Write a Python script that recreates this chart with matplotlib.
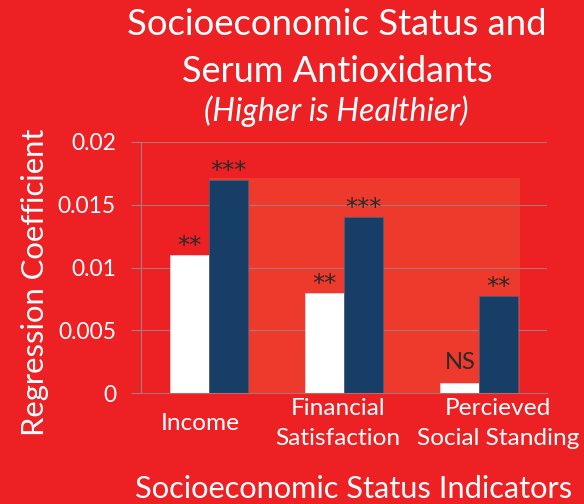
import matplotlib
matplotlib.use("Agg")
import matplotlib.pyplot as plt
import matplotlib.transforms as mtransforms
import numpy as np
from matplotlib.patches import Rectangle

categories = ["Income", "Financial\nSatisfaction", "Percieved\nSocial Standing"]
white_vals = [0.011, 0.008, 0.0008]
blue_vals = [0.017, 0.014, 0.0077]
white_sig = ["**", "**", "NS"]
blue_sig = ["***", "***", "**"]
yticks = [0, 0.005, 0.01, 0.015, 0.02]
ytick_labels = ["0", "0.005", "0.01", "0.015", "0.02"]

BG = "#ED2024"
LIGHT = "#EE3A2C"
NAVY = "#163E66"
FONT = "Lato"
DARK = "#2A2A2A"

W, H = 584, 504
fig = plt.figure(figsize=(W / 100, H / 100), dpi=100, facecolor=BG)
ax = fig.add_axes([141 / W, (H - 393) / H, 406 / W, (393 - 142) / H])
ax.set_facecolor(BG)

x = np.arange(len(categories))
bw = 0.288

ax.add_patch(Rectangle((0, 0), 2.3, 0.0171, facecolor=LIGHT, edgecolor="none", zorder=0.5))
for yv in yticks[1:]:
    ax.axhline(yv, color="#B07470", lw=0.8, zorder=0.6)

ax.bar(x - bw / 2, white_vals, bw, color="white", edgecolor="#E8D0D0", linewidth=0.6, zorder=2)
ax.bar(x + bw / 2, blue_vals, bw, color=NAVY, edgecolor="#4A5F78", linewidth=0.6, zorder=2)


def label(xp, yv, s):
    if s == "NS":
        ax.annotate(s, (xp, yv), xytext=(0, 10), textcoords="offset points",
                    ha="center", va="baseline", fontsize=17, color=DARK,
                    family=FONT, zorder=3)
    else:
        ax.annotate(s, (xp, yv), xytext=(0, 1.5), textcoords="offset points",
                    ha="center", va="baseline", fontsize=17.5, color=DARK,
                    family="DejaVu Sans", zorder=3)


for i in range(len(categories)):
    label(x[i] - bw / 2, white_vals[i], white_sig[i])
    label(x[i] + bw / 2, blue_vals[i], blue_sig[i])

ax.set_xlim(-0.5, 2.5)
ax.set_ylim(0, 0.02)
ax.set_yticks(yticks)
ax.set_yticklabels(ytick_labels, fontsize=16, color="white", family=FONT)
ax.set_xticks(x)
ax.set_xticklabels(categories, fontsize=16, color="white", family=FONT, va="center", linespacing=1.58)
ax.tick_params(axis="x", length=0, pad=22)
ax.tick_params(axis="y", length=7, width=0.8, color="#A08080", pad=11)

# small horizontal shifts of category labels (as in the reference layout)
shifts_px = [-8, -6, 19]
for tl, dx in zip(ax.get_xticklabels(), shifts_px):
    tl.set_transform(tl.get_transform() + mtransforms.Affine2D().translate(dx, 0))

for s in ["top", "right"]:
    ax.spines[s].set_visible(False)
ax.spines["left"].set_color("#A08080")
ax.spines["left"].set_linewidth(0.8)
ax.spines["bottom"].set_color("#B0706E")
ax.spines["bottom"].set_linewidth(0.8)

t1 = fig.text(337 / W, 1 - 35 / H, "Socioeconomic Status and", ha="center", va="baseline",
              fontsize=26, color="white", family=FONT)
t2 = fig.text(337.5 / W, 1 - 82 / H, "Serum Antioxidants", ha="center", va="baseline",
              fontsize=26, color="white", family=FONT)
t3 = fig.text(336.5 / W, 1 - 121 / H, "(Higher is Healthier)", ha="center", va="baseline",
              fontsize=22, color="white", family=FONT, style="italic")
t4 = fig.text(35 / W, 1 - 282 / H, "Regression Coefficient", ha="center", va="center",
              rotation=90, fontsize=22, color="white", family=FONT)
t5 = fig.text(354 / W, 1 - 498 / H, "Socioeconomic Status Indicators", ha="center", va="baseline",
              fontsize=21, color="white", family=FONT)

# fit text sizes to the reference's measured extents
fig.canvas.draw()
r = fig.canvas.get_renderer()


def fit(t, target, use_height=False):
    bb = t.get_window_extent(r)
    cur = bb.height if use_height else bb.width
    t.set_fontsize(t.get_fontsize() * target / cur)


fit(t1, 420)
fit(t2, 311)
fit(t3, 263)
fit(t4, 307, use_height=True)
fit(t5, 438)

xt = ax.get_xticklabels()
bb = xt[2].get_window_extent(r)
fs = xt[2].get_fontsize() * 163 / bb.width
for tl in xt:
    tl.set_fontsize(fs)
yt = ax.get_yticklabels()
bb = yt[3].get_window_extent(r)
fs = yt[3].get_fontsize() * 58 / bb.width
for tl in yt:
    tl.set_fontsize(fs)

fig.savefig("out.png", dpi=100, facecolor=BG)
